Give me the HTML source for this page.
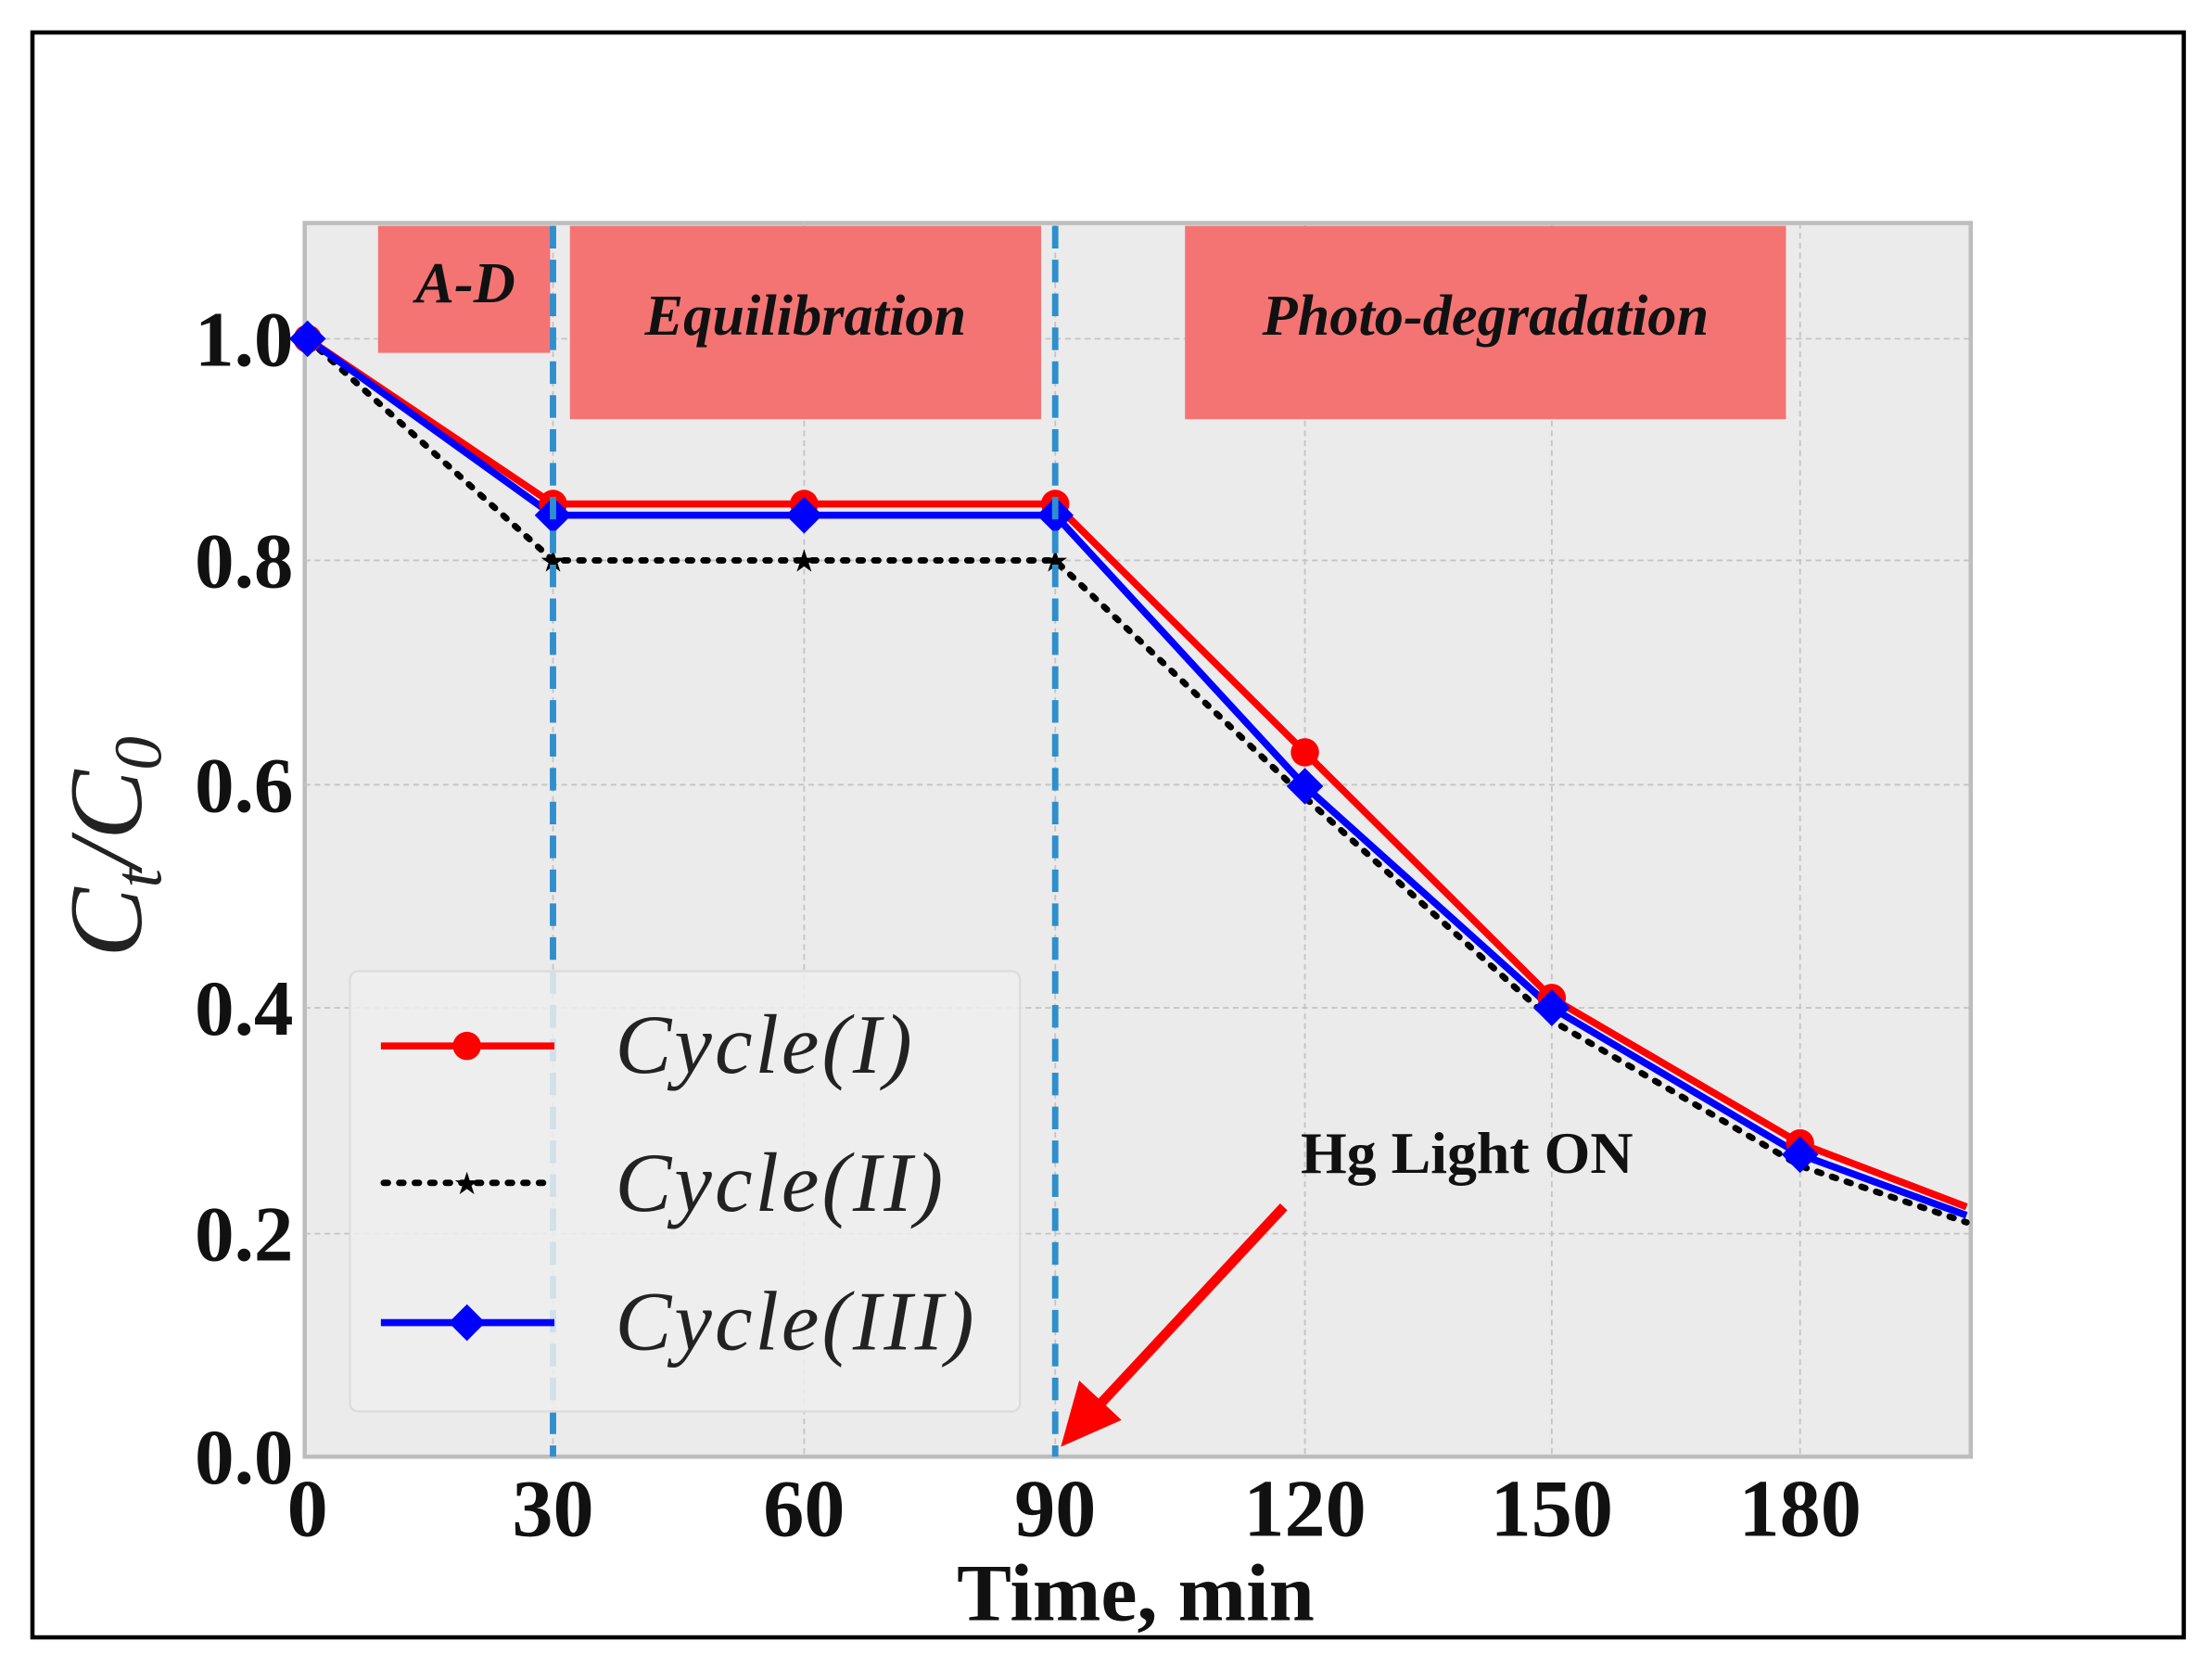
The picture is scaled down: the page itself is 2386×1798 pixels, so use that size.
<!DOCTYPE html>
<html><head><style>html,body{margin:0;padding:0;background:#fff}svg{display:block}</style></head>
<body>
<svg width="2386" height="1798" viewBox="0 0 1568 1181" preserveAspectRatio="none" xmlns="http://www.w3.org/2000/svg" font-family="Liberation Serif, serif">
<rect x="0" y="0" width="1568" height="1181" fill="#fff"/>
<rect x="23" y="23" width="1525" height="1137" fill="none" stroke="#000" stroke-width="3"/>
<rect x="216" y="158" width="1181" height="874" fill="#ebebeb" stroke="#bdbdbd" stroke-width="3"/>
<g stroke="#c4c4c4" stroke-width="1.2" stroke-dasharray="4,3">
<line x1="392" y1="158" x2="392" y2="1032"/><line x1="570" y1="158" x2="570" y2="1032"/>
<line x1="748" y1="158" x2="748" y2="1032"/><line x1="925" y1="158" x2="925" y2="1032"/>
<line x1="1100" y1="158" x2="1100" y2="1032"/><line x1="1276" y1="158" x2="1276" y2="1032"/>
<line x1="216" y1="240" x2="1397" y2="240"/><line x1="216" y1="397" x2="1397" y2="397"/>
<line x1="216" y1="556" x2="1397" y2="556"/><line x1="216" y1="714" x2="1397" y2="714"/>
<line x1="216" y1="874" x2="1397" y2="874"/>
</g>
<g fill="#f47474">
<rect x="268" y="160" width="122" height="90"/>
<rect x="404" y="160" width="334" height="137"/>
<rect x="840" y="160" width="426" height="137"/>
</g>
<g font-weight="bold" font-style="italic" font-size="41" fill="#111" text-anchor="middle">
<text x="330" y="214">A-D</text>
<text x="571" y="237">Equilibration</text>
<text x="1053" y="237">Photo-degradation</text>
</g>
<polyline fill="none" stroke="#ff0000" stroke-width="5" points="218,240 392,357 570,357 748,357 925,533 1100,707 1276,810 1394,855"/>
<polyline fill="none" stroke="#000" stroke-width="4.5" stroke-dasharray="3,8" stroke-linecap="round" points="218,240 392,397 570,397 748,397 925,565 1100,723 1276,826 1394,866"/>
<polyline fill="none" stroke="#0000ff" stroke-width="5" points="218,240 392,365 570,365 748,365 925,557 1100,714 1276,818 1394,861"/>
<g fill="#ff0000"><circle cx="218" cy="240" r="10"/><circle cx="392" cy="357" r="10"/><circle cx="570" cy="357" r="10"/><circle cx="748" cy="357" r="10"/><circle cx="925" cy="533" r="10"/><circle cx="1100" cy="707" r="10"/><circle cx="1276" cy="810" r="10"/></g>
<g fill="#0000ff"><path d="M218 227l13 13-13 13-13-13z"/><path d="M392 352l13 13-13 13-13-13z"/><path d="M570 352l13 13-13 13-13-13z"/><path d="M748 352l13 13-13 13-13-13z"/><path d="M925 544l13 13-13 13-13-13z"/><path d="M1100 701l13 13-13 13-13-13z"/><path d="M1276 805l13 13-13 13-13-13z"/></g>
<g fill="#000" font-size="22" text-anchor="middle"><text x="570" y="405">★</text><text x="748" y="405">★</text><text x="392" y="405">★</text></g>
<g stroke="#2f8fcc" stroke-width="4.5" stroke-dasharray="16,8">
<line x1="392" y1="160" x2="392" y2="1032"/><line x1="748" y1="160" x2="748" y2="1032"/>
</g>
<rect x="248" y="688" width="475" height="312" rx="6" fill="#efefef" fill-opacity="0.85" stroke="#dcdcdc" stroke-width="1.5"/>
<line x1="270" y1="741" x2="393" y2="741" stroke="#ff0000" stroke-width="5"/><circle cx="331" cy="741" r="10" fill="#ff0000"/>
<line x1="272" y1="838" x2="393" y2="838" stroke="#000" stroke-width="4.5" stroke-dasharray="3,8" stroke-linecap="round"/><text x="331" y="846" font-size="22" text-anchor="middle">★</text>
<line x1="270" y1="937" x2="393" y2="937" stroke="#0000ff" stroke-width="5"/><path d="M331 924l13 13-13 13-13-13z" fill="#0000ff"/>
<g font-size="60" font-style="italic" fill="#222" letter-spacing="2">
<text x="436" y="760">Cycle(I)</text>
<text x="436" y="858">Cycle(II)</text>
<text x="436" y="956">Cycle(III)</text>
</g>
<line x1="910" y1="855" x2="775" y2="1000" stroke="#ff0000" stroke-width="7"/>
<path d="M752 1025 L765 978 L795 1006 Z" fill="#ff0000"/>
<text x="922" y="831" font-size="42" font-weight="bold" fill="#111">Hg Light ON</text>
<g font-size="56" font-weight="bold" fill="#111" text-anchor="end">
<text x="208" y="259">1.0</text><text x="208" y="416">0.8</text><text x="208" y="575">0.6</text>
<text x="208" y="733">0.4</text><text x="208" y="893">0.2</text><text x="208" y="1051">0.0</text>
</g>
<g font-size="58" font-weight="bold" fill="#111" text-anchor="middle">
<text x="218" y="1088">0</text><text x="392" y="1088">30</text><text x="570" y="1088">60</text>
<text x="748" y="1088">90</text><text x="925" y="1088">120</text><text x="1100" y="1088">150</text><text x="1276" y="1088">180</text>
</g>
<text x="805" y="1148" font-size="58" font-weight="bold" text-anchor="middle" fill="#111">Time, min</text>
<text transform="translate(100,600) rotate(-90)" font-size="74" font-style="italic" text-anchor="middle" fill="#222">C<tspan font-size="48" dy="14">t</tspan><tspan dy="-14">/C</tspan><tspan font-size="48" dy="14">0</tspan></text>
</svg>
</body></html>
